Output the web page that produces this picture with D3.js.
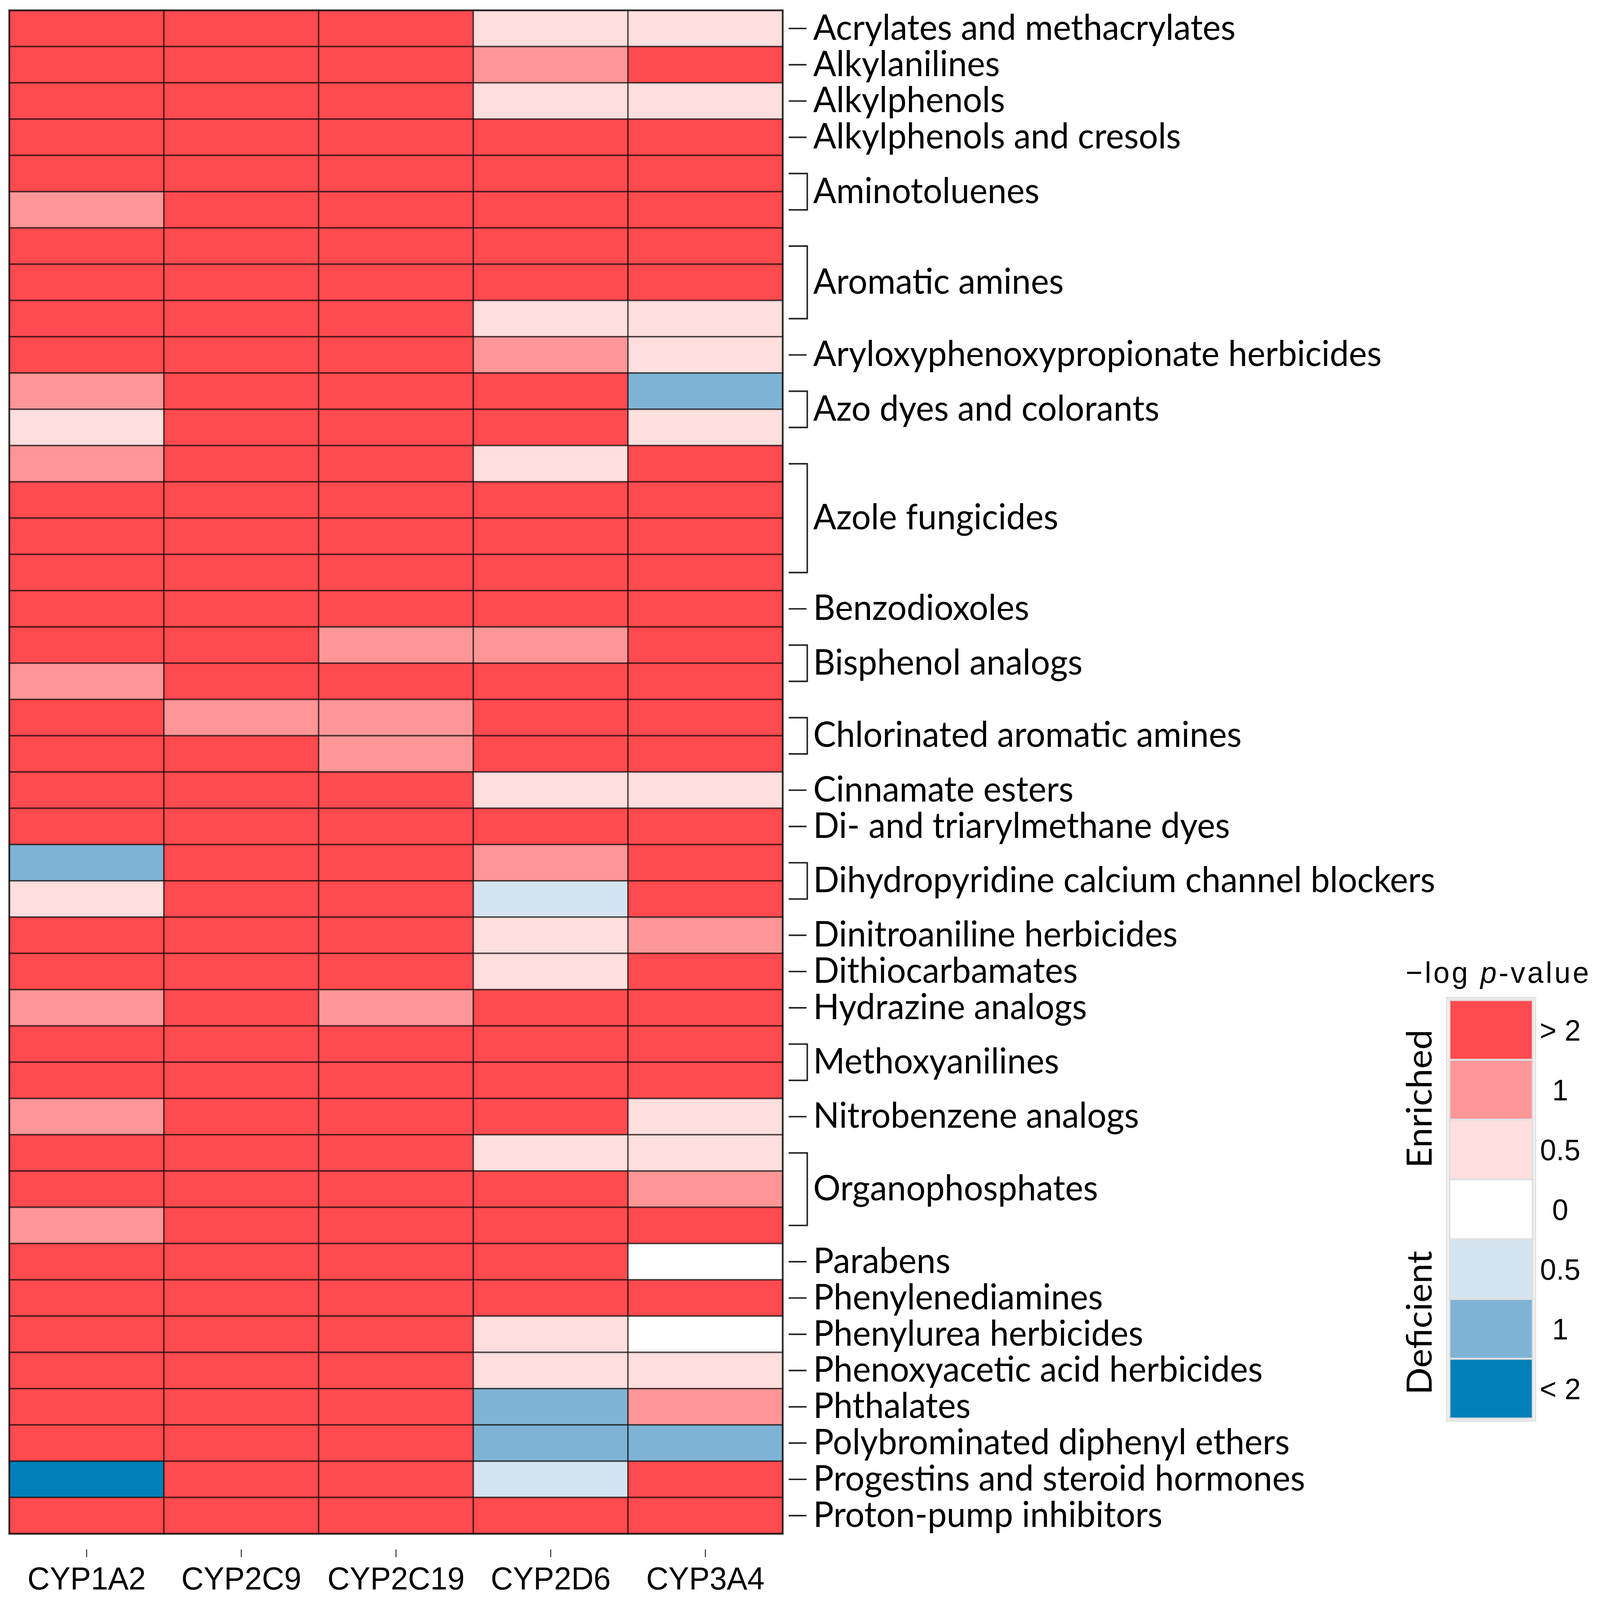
<!DOCTYPE html>
<html>
<head>
<meta charset="utf-8">
<script src="https://cdn.jsdelivr.net/npm/d3@7"></script>
<style>
  html, body { margin: 0; padding: 0; background: #fff; overflow: hidden; }
  svg { display: block; width: 100vw; height: 100vh; }
  .row-label { font-family: Lato, "Open Sans", sans-serif; font-size: 92px; fill: #000; }
  .col-label { font-family: "Liberation Sans", Arial, sans-serif; font-size: 83px; fill: #000; }
  .legend-text { font-family: "Liberation Sans", Arial, sans-serif; font-size: 78px; fill: #000; }
  .side-label { font-family: Lato, "Open Sans", sans-serif; font-size: 94px; fill: #000; }
</style>
</head>
<body>
<svg viewBox="0 0 4305 4179" preserveAspectRatio="none"></svg>
<script>
// Enzymes (columns)
const enzymes = ["CYP1A2", "CYP2C9", "CYP2C19", "CYP2D6", "CYP3A4"];

// Chemical classes and how many heatmap rows each one covers
const classNames = [
    "Acrylates and methacrylates", "Alkylanilines", "Alkylphenols", "Alkylphenols and cresols",
    "Aminotoluenes", "Aromatic amines", "Aryloxyphenoxypropionate herbicides", "Azo dyes and colorants",
    "Azole fungicides", "Benzodioxoles", "Bisphenol analogs", "Chlorinated aromatic amines",
    "Cinnamate esters", "Di- and triarylmethane dyes", "Dihydropyridine calcium channel blockers",
    "Dinitroaniline herbicides", "Dithiocarbamates", "Hydrazine analogs", "Methoxyanilines",
    "Nitrobenzene analogs", "Organophosphates", "Parabens", "Phenylenediamines",
    "Phenylurea herbicides", "Phenoxyacetic acid herbicides", "Phthalates",
    "Polybrominated diphenyl ethers", "Progestins and steroid hormones", "Proton-pump inhibitors"
];
const classRowCounts = [1, 1, 1, 1, 2, 3, 1, 2, 4, 1, 2, 2, 1, 1, 2, 1, 1, 1, 2, 1, 3, 1, 1, 1, 1, 1, 1, 1, 1];

// Binned -log p-value per row (columns in enzyme order); negative = deficient
// 2 = "> 2", -2 = "< 2"
const cellValues = [
    [2, 2, 2, 0.5, 0.5],
    [2, 2, 2, 1, 2],
    [2, 2, 2, 0.5, 0.5],
    [2, 2, 2, 2, 2],
    [2, 2, 2, 2, 2],
    [1, 2, 2, 2, 2],
    [2, 2, 2, 2, 2],
    [2, 2, 2, 2, 2],
    [2, 2, 2, 0.5, 0.5],
    [2, 2, 2, 1, 0.5],
    [1, 2, 2, 2, -1],
    [0.5, 2, 2, 2, 0.5],
    [1, 2, 2, 0.5, 2],
    [2, 2, 2, 2, 2],
    [2, 2, 2, 2, 2],
    [2, 2, 2, 2, 2],
    [2, 2, 2, 2, 2],
    [2, 2, 1, 1, 2],
    [1, 2, 2, 2, 2],
    [2, 1, 1, 2, 2],
    [2, 2, 1, 2, 2],
    [2, 2, 2, 0.5, 0.5],
    [2, 2, 2, 2, 2],
    [-1, 2, 2, 1, 2],
    [0.5, 2, 2, -0.5, 2],
    [2, 2, 2, 0.5, 1],
    [2, 2, 2, 0.5, 2],
    [1, 2, 1, 2, 2],
    [2, 2, 2, 2, 2],
    [2, 2, 2, 2, 2],
    [1, 2, 2, 2, 0.5],
    [2, 2, 2, 0.5, 0.5],
    [2, 2, 2, 2, 1],
    [1, 2, 2, 2, 2],
    [2, 2, 2, 2, 0],
    [2, 2, 2, 2, 2],
    [2, 2, 2, 0.5, 0],
    [2, 2, 2, 0.5, 0.5],
    [2, 2, 2, -1, 1],
    [2, 2, 2, -1, -1],
    [-2, 2, 2, -0.5, 2],
    [2, 2, 2, 2, 2]
];

// Legend levels, labels and colours
const levels = [2, 1, 0.5, 0, -0.5, -1, -2];
const levelLabels = ["> 2", "1", "0.5", "0", "0.5", "1", "< 2"];
const levelColors = ["#ff4a4f", "#fe9697", "#ffdede", "#ffffff", "#d4e4f0", "#7fb3d6", "#0080b8"];

const svg = d3.select("svg");

const color = d3.scaleOrdinal().domain(levels).range(levelColors);

const x = d3.scaleBand()
    .domain(enzymes)
    .range([25, 2106]);

const y = d3.scaleBand()
    .domain(d3.range(cellValues.length))
    .range([27, 4006]);

// Flatten cells
const cells = [];
cellValues.forEach((row, i) => {
    row.forEach((v, j) => cells.push({row: i, enzyme: enzymes[j], value: v}));
});

// Heatmap cells
svg.append("g")
    .selectAll("rect")
    .data(cells)
    .join("rect")
    .attr("x", d => x(d.enzyme))
    .attr("y", d => y(d.row))
    .attr("width", x.bandwidth())
    .attr("height", y.bandwidth())
    .attr("fill", d => color(d.value))
    .attr("stroke", "rgba(0,0,0,0.55)")
    .attr("stroke-width", 4);

// Outer border
svg.append("rect")
    .attr("x", 25)
    .attr("y", 27)
    .attr("width", 2106 - 25)
    .attr("height", 4006 - 27)
    .attr("fill", "none")
    .attr("stroke", "rgba(0,0,0,0.6)")
    .attr("stroke-width", 5);

// Bottom axis with enzyme names
const xAxis = svg.append("g")
    .attr("transform", "translate(0,4047)")
    .call(d3.axisBottom(x).tickSize(20).tickPadding(26));
xAxis.select(".domain").remove();
xAxis.selectAll(".tick line").attr("stroke", "#444").attr("stroke-width", 3);
xAxis.selectAll(".tick text")
    .attr("class", "col-label")
    .attr("font-size", null)
    .attr("font-family", null);
xAxis.attr("font-size", null).attr("font-family", null);

// Row group labels with ticks / brackets
const groups = [];
let start = 0;
classNames.forEach((name, k) => {
    const n = classRowCounts[k];
    const yTop = y(start) + y.bandwidth() / 2;
    const yBot = y(start + n - 1) + y.bandwidth() / 2;
    groups.push({name: name, n: n, yTop: yTop, yBot: yBot, yc: (yTop + yBot) / 2});
    start += n;
});

const labelG = svg.append("g");
labelG.selectAll("path")
    .data(groups)
    .join("path")
    .attr("d", d => d.n === 1
        ? `M2122,${d.yc}H2170`
        : `M2122,${d.yTop}H2172V${d.yBot}H2122`)
    .attr("fill", "none")
    .attr("stroke", "#222")
    .attr("stroke-width", 4);

labelG.selectAll("text")
    .data(groups)
    .join("text")
    .attr("class", "row-label")
    .attr("x", 2188)
    .attr("y", d => d.yc)
    .attr("dy", "0.32em")
    .text(d => d.name);

// Legend
const ly = d3.scaleBand()
    .domain(levels)
    .range([2612, 3705]);

const legend = svg.append("g");

legend.append("rect")
    .attr("x", 3893)
    .attr("y", 2606)
    .attr("width", 238)
    .attr("height", 1105)
    .attr("fill", "none")
    .attr("stroke", "#e4e4e4")
    .attr("stroke-width", 5);

legend.selectAll("rect.key")
    .data(levels)
    .join("rect")
    .attr("class", "key")
    .attr("x", 3900)
    .attr("y", d => ly(d))
    .attr("width", 224)
    .attr("height", ly.bandwidth())
    .attr("fill", d => color(d))
    .attr("stroke", "#e0e0e0")
    .attr("stroke-width", 5);

legend.selectAll("text.key-label")
    .data(levels)
    .join("text")
    .attr("class", "legend-text key-label")
    .attr("x", 4198)
    .attr("y", d => ly(d) + ly.bandwidth() / 2)
    .attr("dy", "0.36em")
    .attr("text-anchor", "middle")
    .text((d, i) => levelLabels[i]);

const title = legend.append("text")
    .attr("class", "legend-text")
    .attr("x", 3782)
    .attr("y", 2567)
    .attr("font-size", 88)
    .attr("letter-spacing", 6);
title.append("tspan").text("\u2212log ");
title.append("tspan").attr("font-style", "italic").text("p");
title.append("tspan").text("-value");

legend.append("text")
    .attr("class", "side-label")
    .attr("transform", "translate(3852,2870) rotate(-90)")
    .attr("text-anchor", "middle")
    .text("Enriched");

legend.append("text")
    .attr("class", "side-label")
    .attr("transform", "translate(3852,3455) rotate(-90)")
    .attr("text-anchor", "middle")
    .text("Deficient");
</script>
</body>
</html>
